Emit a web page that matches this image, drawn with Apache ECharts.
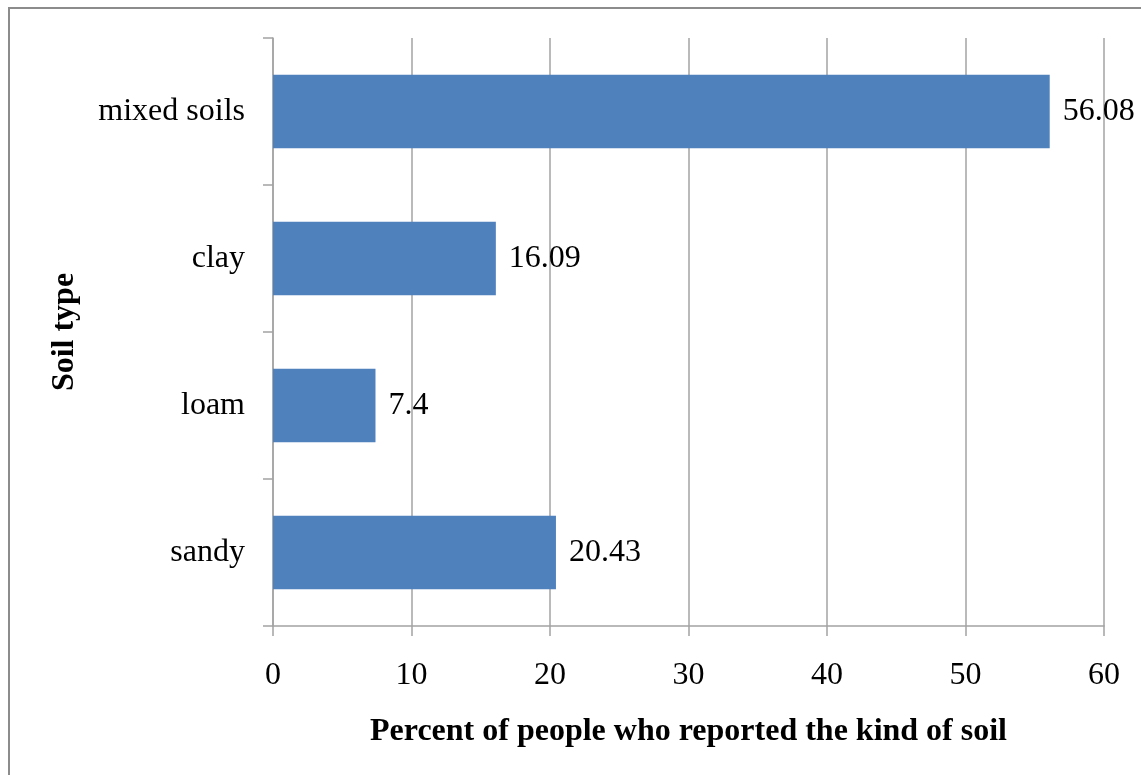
<!DOCTYPE html>
<html>
<head>
<meta charset="utf-8">
<style>
  html, body { margin: 0; padding: 0; background: #fff; overflow: hidden; }
  #frame {
    position: absolute; left: 8px; top: 7px; width: 1300px; height: 900px;
    border-left: 2px solid #8c8c8c; border-top: 2px solid #8c8c8c;
    box-sizing: border-box; pointer-events: none; z-index: 2;
  }
  #chart { position: absolute; left: 0; top: 0; width: 1141px; height: 775px; }
</style>
<script src="https://cdn.jsdelivr.net/npm/echarts@6/dist/echarts.min.js"></script>
</head>
<body>
<div id="chart"></div>
<div id="frame"></div>
<script>
// Soil types reported, listed bottom to top on the category axis
const soilTypes = ['sandy', 'loam', 'clay', 'mixed soils'];
const percentReported = [20.43, 7.4, 16.09, 56.08];
const xTicks = { min: 0, max: 60, interval: 10 };

const serif = '"Liberation Serif", "Times New Roman", serif';
const gridGray = '#a3a3a3';

const chart = echarts.init(document.getElementById('chart'), null, { renderer: 'canvas' });
chart.setOption({
  animation: false,
  backgroundColor: '#ffffff',
  grid: { left: 273, right: 37, top: 38, bottom: 149, containLabel: false },
  xAxis: {
    type: 'value',
    min: xTicks.min, max: xTicks.max, interval: xTicks.interval,
    name: 'Percent of people who reported the kind of soil',
    nameLocation: 'middle',
    nameGap: 90,
    nameTextStyle: { fontFamily: serif, fontSize: 32, fontWeight: 'bold', color: '#000' },
    axisLine: { show: true, lineStyle: { color: gridGray, width: 1.5 } },
    axisTick: { show: true, length: 10, lineStyle: { color: gridGray, width: 1.5 } },
    axisLabel: { fontFamily: serif, fontSize: 32, color: '#000', margin: 34 },
    splitLine: { show: true, lineStyle: { color: gridGray, width: 1.5 } }
  },
  yAxis: {
    type: 'category',
    data: soilTypes,
    name: 'Soil type',
    nameLocation: 'middle',
    nameGap: 192,
    nameRotate: 90,
    nameTextStyle: { fontFamily: serif, fontSize: 32, fontWeight: 'bold', color: '#000' },
    axisLine: { show: true, lineStyle: { color: gridGray, width: 1.5 } },
    axisTick: { show: true, length: 10, alignWithLabel: false, lineStyle: { color: gridGray, width: 1.5 } },
    axisLabel: { fontFamily: serif, fontSize: 32, color: '#000', margin: 28 },
    splitLine: { show: false }
  },
  series: [{
    type: 'bar',
    data: percentReported,
    barCategoryGap: '50%',
    itemStyle: { color: '#4f81bd' },
    label: {
      show: true,
      position: 'right',
      distance: 13,
      fontFamily: serif,
      fontSize: 32,
      color: '#000',
      formatter: p => String(p.value)
    }
  }]
});
</script>
</body>
</html>
